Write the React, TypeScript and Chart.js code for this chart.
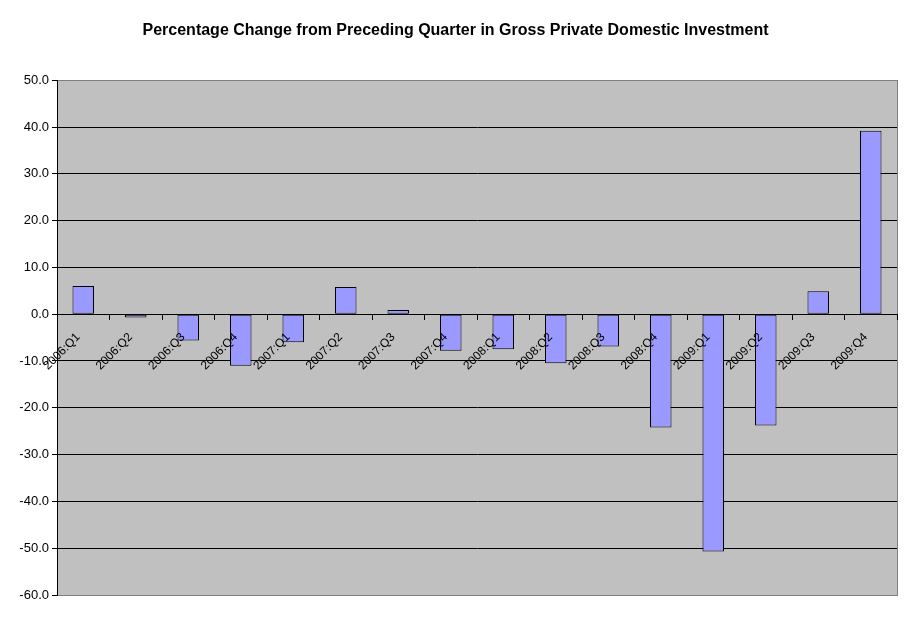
import React, { useEffect, useRef } from "react";
import { Chart, registerables } from "chart.js";

Chart.register(...registerables);

const categories = [
  "2006:Q1", "2006:Q2", "2006:Q3", "2006:Q4",
  "2007:Q1", "2007:Q2", "2007:Q3", "2007:Q4",
  "2008:Q1", "2008:Q2", "2008:Q3", "2008:Q4",
  "2009:Q1", "2009:Q2", "2009:Q3", "2009:Q4",
];

const changeValues = [
  6.0, -0.7, -5.6, -11.0,
  -6.0, 5.8, 0.9, -7.8,
  -7.5, -10.5, -6.9, -24.2,
  -50.7, -23.8, 4.9, 39.2,
];

const yMin = -60;
const yMax = 50;
const yStep = 10;

const titleText = "Percentage Change from Preceding Quarter in Gross Private Domestic Investment";

const FONT = "'Liberation Sans', Arial, sans-serif";

const plotBackground = {
  id: "plotBackground",
  beforeDraw(chart: any) {
    const { ctx, chartArea } = chart;
    if (!chartArea) return;
    ctx.save();
    ctx.fillStyle = "#C0C0C0";
    ctx.fillRect(chartArea.left, chartArea.top, chartArea.right - chartArea.left, chartArea.bottom - chartArea.top);
    ctx.strokeStyle = "#808080";
    ctx.lineWidth = 1;
    ctx.strokeRect(
      Math.round(chartArea.left) + 0.5,
      Math.round(chartArea.top) + 0.5,
      Math.round(chartArea.right - chartArea.left),
      Math.round(chartArea.bottom - chartArea.top)
    );
    ctx.restore();
  },
};

export default function App() {
  const canvasRef = useRef<HTMLCanvasElement | null>(null);

  useEffect(() => {
    if (!canvasRef.current) return;
    const chart = new Chart(canvasRef.current, {
      type: "bar",
      data: {
        labels: categories,
        datasets: [
          {
            data: changeValues,
            backgroundColor: "#9999FF",
            borderColor: "#000000",
            borderWidth: 1,
            borderSkipped: false,
            categoryPercentage: 1,
            barPercentage: 0.41,
          },
        ],
      },
      options: {
        responsive: false,
        animation: false,
        layout: { padding: { left: 14, right: 14, top: 0, bottom: 26 } },
        plugins: {
          legend: { display: false },
          tooltip: { enabled: false },
          title: {
            display: true,
            text: titleText,
            color: "#000000",
            font: { family: FONT, size: 16, weight: "bold" },
            padding: { top: 21, bottom: 40 },
          },
        },
        scales: {
          x: {
            position: { y: 0 } as any,
            grid: {
              display: true,
              offset: true,
              drawOnChartArea: false,
              drawTicks: true,
              tickLength: 5,
              color: "#000000",
            },
            border: { display: true, color: "#000000", width: 1, z: 1 },
            ticks: {
              z: 2,
              autoSkip: false,
              minRotation: 45,
              maxRotation: 45,
              padding: 11,
              labelOffset: -5,
              color: "#000000",
              font: { family: FONT, size: 12 },
            },
          },
          y: {
            min: yMin,
            max: yMax,
            afterFit(scale: any) {
              scale.width = 43;
            },
            grid: {
              color: (ctx: any) =>
                ctx.tick && (ctx.tick.value === yMax || ctx.tick.value === yMin) ? "rgba(0,0,0,0)" : "#000000",
              tickColor: "#000000",
              tickLength: 5,
              lineWidth: 1,
            },
            border: { display: true, color: "#000000", width: 1 },
            ticks: {
              stepSize: yStep,
              padding: 3,
              color: "#000000",
              font: { family: FONT, size: 13 },
              callback: (v: any) => Number(v).toFixed(1),
            },
          },
        },
      },
      plugins: [plotBackground],
    });
    return () => chart.destroy();
  }, []);

  return (
    <div style={{ position: "absolute", left: 0, top: 0, width: 911, height: 621, background: "#FFFFFF" }}>
      <canvas ref={canvasRef} width={911} height={621} style={{ width: 911, height: 621, display: "block" }} />
    </div>
  );
}
